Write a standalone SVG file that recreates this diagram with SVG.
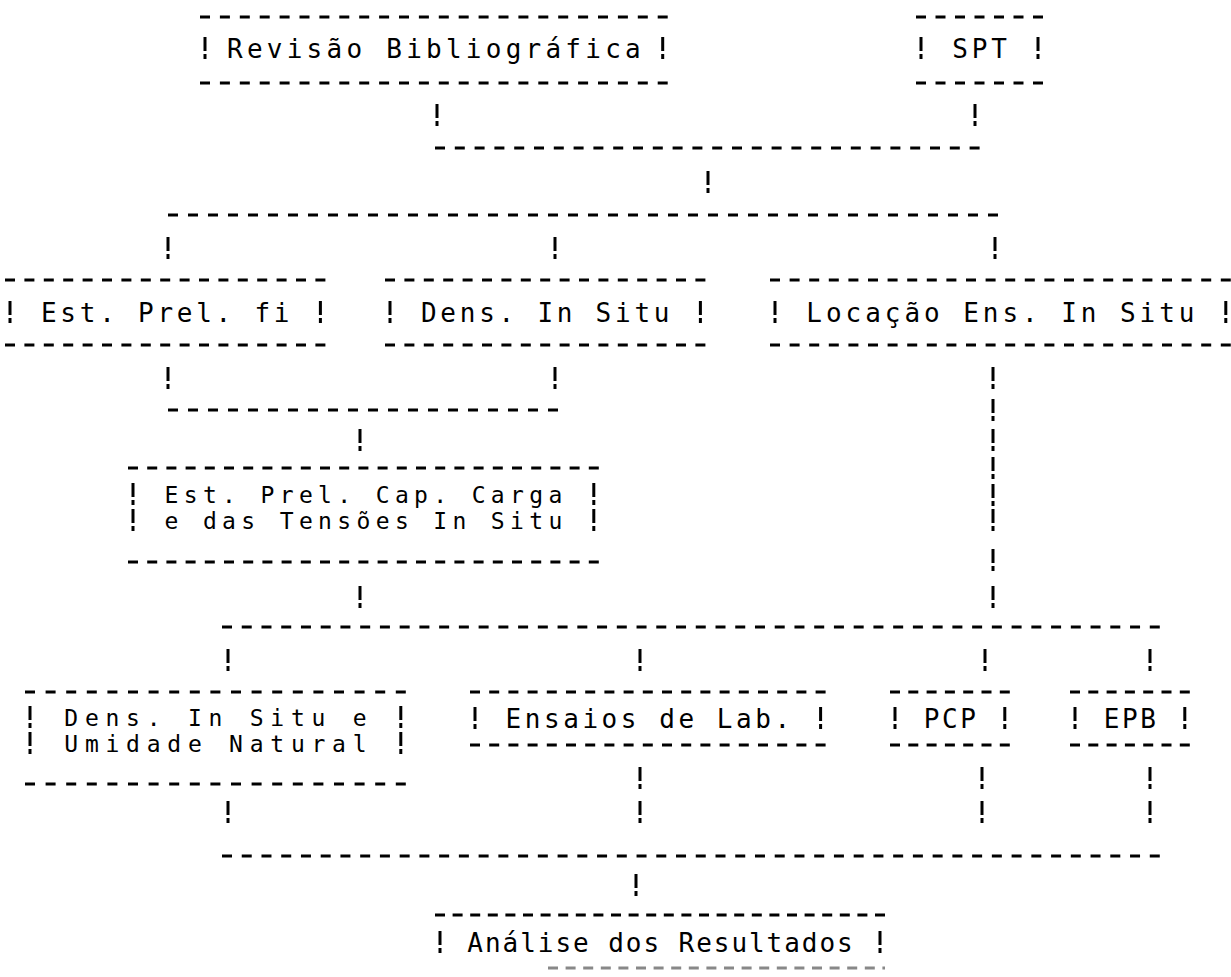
<svg xmlns="http://www.w3.org/2000/svg" xmlns:xlink="http://www.w3.org/1999/xlink" width="1231" height="977" viewBox="0 0 1231 977">
<style>
.d{stroke:#000;stroke-width:3;fill:none}
.g{stroke:#888;stroke-width:3;fill:none}
.b{stroke:#000;stroke-width:3;fill:none}
.t{font-family:"DejaVu Sans Mono","Liberation Mono",monospace;font-size:26px;fill:#000;text-anchor:middle}
.t2{font-family:"DejaVu Sans Mono","Liberation Mono",monospace;font-size:23px;fill:#000;text-anchor:middle}
</style>
<defs>
<path id="bar" class="b" d="M0,-11V3M0,6V11"/>
</defs>
<rect width="1231" height="977" fill="#fff"/>

<g id="n-revisao">
<line class="d" x1="200" y1="17" x2="667.7" y2="17" stroke-dasharray="10 9.9"/>
<line class="d" x1="200" y1="83" x2="667.7" y2="83" stroke-dasharray="10 9.9"/>
<use xlink:href="#bar" x="205" y="48"/><use xlink:href="#bar" x="662.7" y="48"/>
<text class="t" x="436" y="58" letter-spacing="4.25">Revisão Bibliográfica</text>
</g>
<g id="n-spt">
<line class="d" x1="916" y1="17" x2="1043" y2="17" stroke-dasharray="10 9.5"/>
<line class="d" x1="916" y1="83" x2="1043" y2="83" stroke-dasharray="10 9.5"/>
<use xlink:href="#bar" x="921" y="48"/><use xlink:href="#bar" x="1038" y="48"/>
<text class="t" x="981.4" y="58" letter-spacing="3.85">SPT</text>
</g>
<g id="n-estfi">
<line class="d" x1="5" y1="280" x2="325.4" y2="280" stroke-dasharray="10 9.4"/>
<line class="d" x1="5" y1="345" x2="325.4" y2="345" stroke-dasharray="10 9.4"/>
<use xlink:href="#bar" x="10" y="312"/><use xlink:href="#bar" x="320.4" y="312"/>
<text class="t" x="167.1" y="322" letter-spacing="3.75">Est. Prel. fi</text>
</g>
<g id="n-dens">
<line class="d" x1="385" y1="280" x2="705.4" y2="280" stroke-dasharray="10 9.4"/>
<line class="d" x1="385" y1="345" x2="705.4" y2="345" stroke-dasharray="10 9.4"/>
<use xlink:href="#bar" x="390" y="312"/><use xlink:href="#bar" x="700.4" y="312"/>
<text class="t" x="547.1" y="322" letter-spacing="3.75">Dens. In Situ</text>
</g>
<g id="n-locacao">
<line class="d" x1="770" y1="280" x2="1230.8" y2="280" stroke-dasharray="10 9.6"/>
<line class="d" x1="770" y1="345" x2="1230.8" y2="345" stroke-dasharray="10 9.6"/>
<use xlink:href="#bar" x="775" y="312"/><use xlink:href="#bar" x="1225.8" y="312"/>
<text class="t" x="1002.4" y="322" letter-spacing="3.95">Locação Ens. In Situ</text>
</g>
<g id="n-capcarga">
<line class="d" x1="128" y1="468" x2="598.8" y2="468" stroke-dasharray="10 9.2"/>
<line class="d" x1="128" y1="562" x2="598.8" y2="562" stroke-dasharray="10 9.2"/>
<use xlink:href="#bar" x="133" y="494"/><use xlink:href="#bar" x="593.8" y="494"/>
<use xlink:href="#bar" x="133" y="520"/><use xlink:href="#bar" x="593.8" y="520"/>
<text class="t2" x="366.1" y="502.5" letter-spacing="5.35">Est. Prel. Cap. Carga</text>
<text class="t2" x="366.1" y="528.5" letter-spacing="5.35">e das Tensões In Situ</text>
</g>
<g id="n-densumid">
<line class="d" x1="25" y1="692" x2="405.8" y2="692" stroke-dasharray="10 10.6"/>
<line class="d" x1="25" y1="784" x2="405.8" y2="784" stroke-dasharray="10 10.6"/>
<use xlink:href="#bar" x="30" y="717"/><use xlink:href="#bar" x="400.8" y="717"/>
<use xlink:href="#bar" x="30" y="743"/><use xlink:href="#bar" x="400.8" y="743"/>
<text class="t2" x="218.8" y="725.5" letter-spacing="6.75">Dens. In Situ e</text>
<text class="t2" x="218.8" y="751.5" letter-spacing="6.75">Umidade Natural</text>
</g>
<g id="n-ensaios">
<line class="d" x1="470" y1="692" x2="825.6" y2="692" stroke-dasharray="10 9.2"/>
<line class="d" x1="470" y1="745" x2="825.6" y2="745" stroke-dasharray="10 9.2"/>
<use xlink:href="#bar" x="475" y="718"/><use xlink:href="#bar" x="820.6" y="718"/>
<text class="t" x="649.6" y="728" letter-spacing="3.55">Ensaios de Lab.</text>
</g>
<g id="n-pcp">
<line class="d" x1="890" y1="692" x2="1009.8" y2="692" stroke-dasharray="10 8.3"/>
<line class="d" x1="890" y1="745" x2="1009.8" y2="745" stroke-dasharray="10 8.3"/>
<use xlink:href="#bar" x="895" y="718"/><use xlink:href="#bar" x="1004.8" y="718"/>
<text class="t" x="951.2" y="728" letter-spacing="2.65">PCP</text>
</g>
<g id="n-epb">
<line class="d" x1="1070" y1="692" x2="1189.8" y2="692" stroke-dasharray="10 8.3"/>
<line class="d" x1="1070" y1="745" x2="1189.8" y2="745" stroke-dasharray="10 8.3"/>
<use xlink:href="#bar" x="1075" y="718"/><use xlink:href="#bar" x="1184.8" y="718"/>
<text class="t" x="1131.2" y="728" letter-spacing="2.65">EPB</text>
</g>
<g id="n-analise">
<line class="d" x1="435" y1="915" x2="885" y2="915" stroke-dasharray="10 7.6"/>
<line class="g" x1="548" y1="968" x2="885" y2="968" stroke-dasharray="10 7.6"/>
<use xlink:href="#bar" x="440" y="942"/><use xlink:href="#bar" x="880" y="942"/>
<text class="t" x="661" y="952" letter-spacing="1.95">Análise dos Resultados</text>
</g>

<g id="connectors">
<use xlink:href="#bar" x="437" y="115"/><use xlink:href="#bar" x="975" y="115"/>
<line class="d" x1="435" y1="148" x2="979.6" y2="148" stroke-dasharray="10 9.8"/>
<use xlink:href="#bar" x="708" y="182"/>
<line class="d" x1="168" y1="215" x2="998" y2="215" stroke-dasharray="10 10"/>
<use xlink:href="#bar" x="168" y="248"/><use xlink:href="#bar" x="555" y="248"/><use xlink:href="#bar" x="995" y="248"/>
<use xlink:href="#bar" x="168" y="378"/><use xlink:href="#bar" x="555" y="378"/>
<line class="d" x1="168" y1="410" x2="558" y2="410" stroke-dasharray="10 10"/>
<use xlink:href="#bar" x="360" y="440"/>
<use xlink:href="#bar" x="360" y="597"/>
<use xlink:href="#bar" x="993" y="378"/><use xlink:href="#bar" x="993" y="410"/><use xlink:href="#bar" x="993" y="440"/><use xlink:href="#bar" x="993" y="468"/><use xlink:href="#bar" x="993" y="495"/><use xlink:href="#bar" x="993" y="520"/><use xlink:href="#bar" x="993" y="560"/><use xlink:href="#bar" x="993" y="597"/>
<line class="d" x1="222" y1="627" x2="1159.8" y2="627" stroke-dasharray="10 9.74"/>
<use xlink:href="#bar" x="228" y="660"/><use xlink:href="#bar" x="640" y="660"/><use xlink:href="#bar" x="985" y="660"/><use xlink:href="#bar" x="1150" y="660"/>
<use xlink:href="#bar" x="640" y="778"/><use xlink:href="#bar" x="982" y="778"/><use xlink:href="#bar" x="1150" y="778"/>
<use xlink:href="#bar" x="228" y="812"/><use xlink:href="#bar" x="640" y="812"/><use xlink:href="#bar" x="982" y="812"/><use xlink:href="#bar" x="1150" y="812"/>
<line class="d" x1="222" y1="856" x2="1159.8" y2="856" stroke-dasharray="10 9.74"/>
<use xlink:href="#bar" x="636" y="885"/>
</g>
</svg>
